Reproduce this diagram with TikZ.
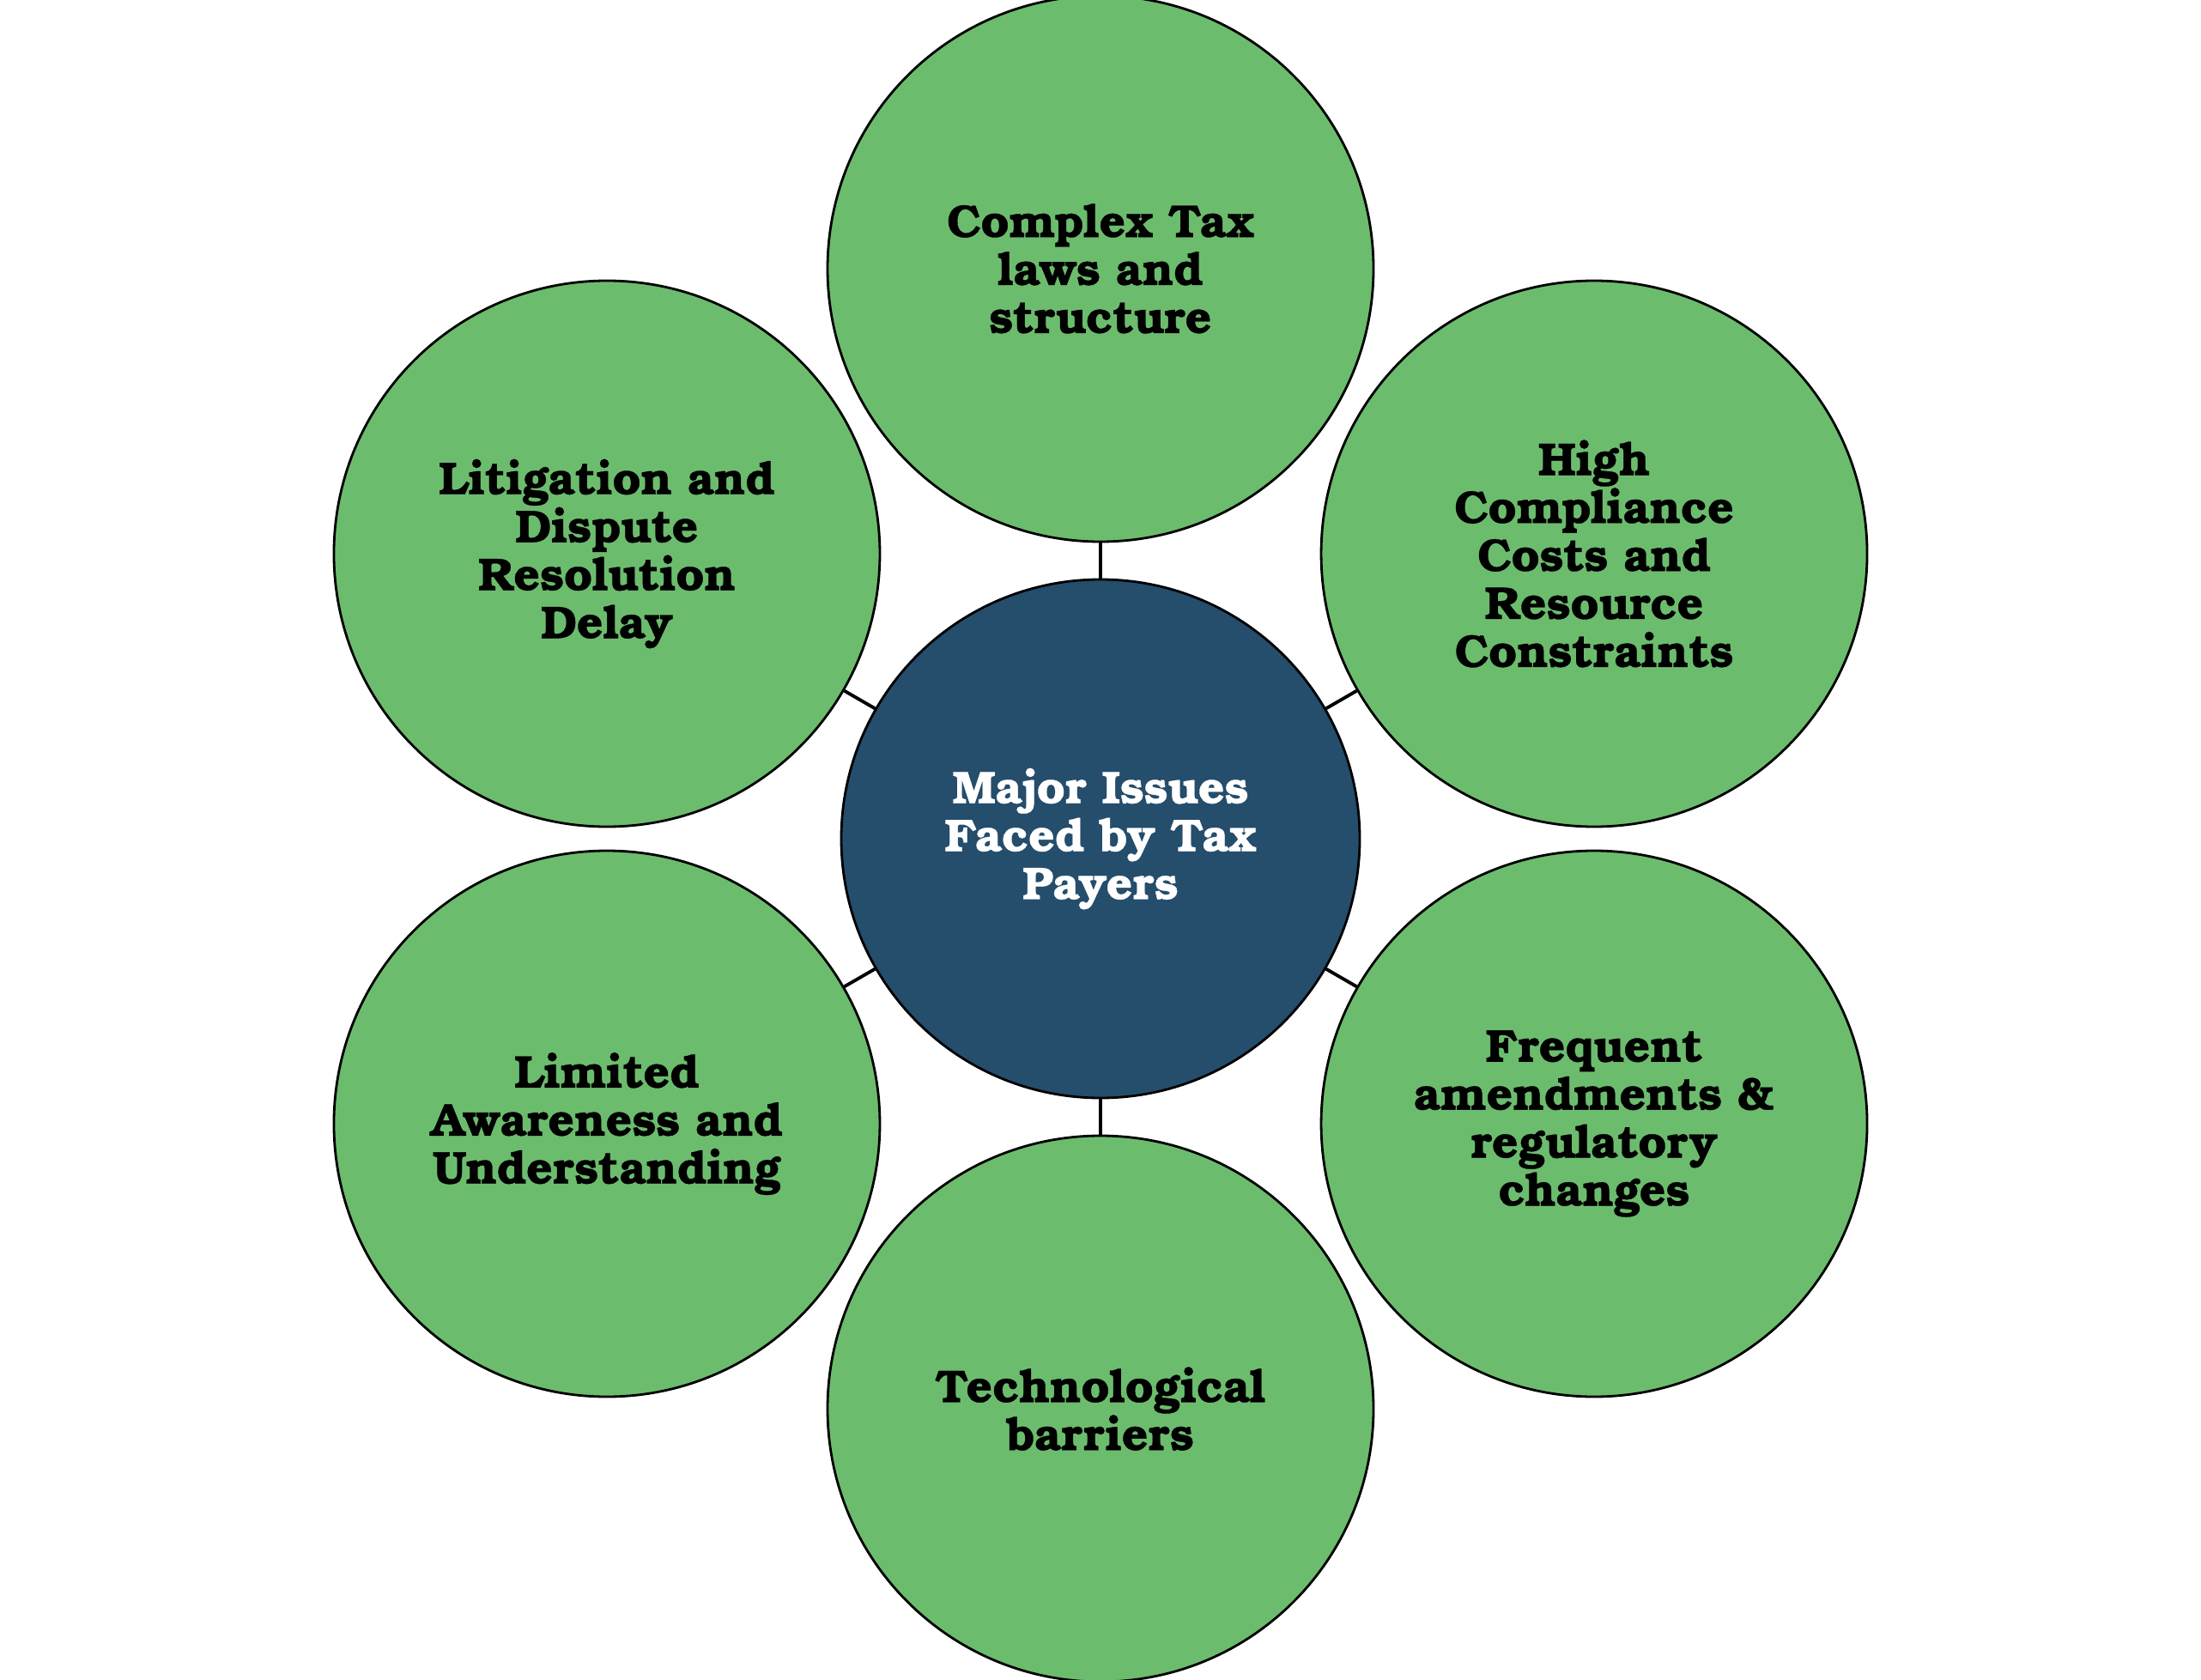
\documentclass[tikz,border=0pt]{standalone}
\usepackage{fontspec}
\setmainfont{TeX Gyre Bonum}[BoldFeatures={FakeBold=0.6}]
\usepackage{tikz}
\usetikzlibrary{calc}

\definecolor{issuegreen}{RGB}{108,188,110}
\definecolor{hubblue}{RGB}{37,77,108}

\begin{document}
\begin{tikzpicture}[
    issue/.style={circle, draw=black, line width=0.8pt, fill=issuegreen,
        minimum size=6.36cm, inner sep=0pt, align=center,
        font=\fontsize{15.2}{15.9}\selectfont\bfseries},
    hub/.style={circle, draw=black, line width=0.8pt, fill=hubblue,
        minimum size=6.04cm, inner sep=0pt, align=center, text=white,
        font=\fontsize{15.2}{15.9}\selectfont\bfseries},
    link/.style={black, line width=1.1pt}
]
    \def\D{6.64}

    \useasboundingbox (0,0) rectangle (25.64,19.56);

    % hub in the middle
    \coordinate (O) at (12.82,9.79);
    \node[hub] (hub) at (O) {Major Issues\\Faced by Tax\\Payers};

    % issues round the hub
    \node[issue] (laws) at ($ (O) + (90:\D) $) {Complex Tax\\laws and\\structure};
    \node[issue] (costs) at ($ (O) + (30:\D) $) {High\\Compliance\\Costs and\\Resource\\Constraints};
    \node[issue] (amend) at ($ (O) + (-30:\D) $) {Frequent\\amendments \&\\regulatory\\changes};
    \node[issue] (tech) at ($ (O) + (-90:\D) $) {Technological\\barriers};
    \node[issue] (aware) at ($ (O) + (210:\D) $) {Limited\\Awareness and\\Understanding};
    \node[issue] (litig) at ($ (O) + (150:\D) $) {Litigation and\\Dispute\\Resolution\\Delay};

    \draw[link] (hub) -- (laws);
    \draw[link] (hub) -- (costs);
    \draw[link] (hub) -- (amend);
    \draw[link] (hub) -- (tech);
    \draw[link] (hub) -- (aware);
    \draw[link] (hub) -- (litig);
\end{tikzpicture}
\end{document}
